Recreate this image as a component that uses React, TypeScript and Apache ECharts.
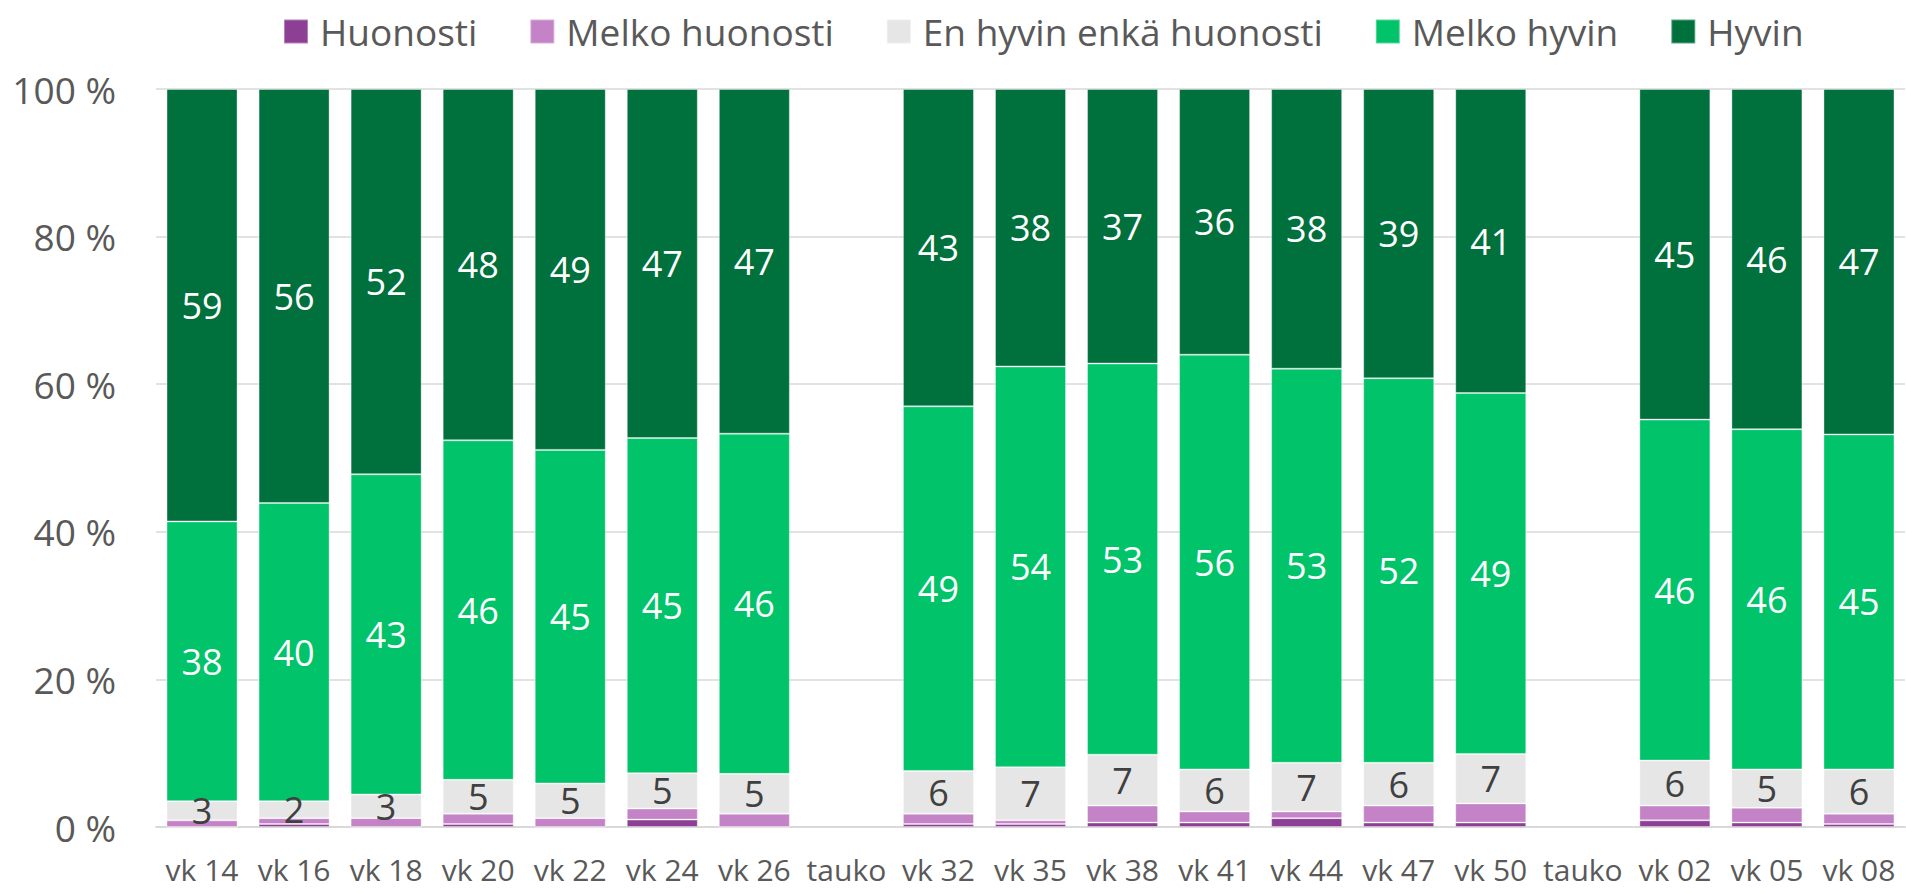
import React, { useEffect, useRef } from "react";
import * as echarts from "echarts";

const categories = ["vk 14", "vk 16", "vk 18", "vk 20", "vk 22", "vk 24", "vk 26", "tauko", "vk 32", "vk 35", "vk 38", "vk 41", "vk 44", "vk 47", "vk 50", "tauko", "vk 02", "vk 05", "vk 08"];
const seriesNames = ["Huonosti", "Melko huonosti", "En hyvin enkä huonosti", "Melko hyvin", "Hyvin"];
const huonosti = [0, 0.4, 0, 0.4, 0, 1.0, 0, null, 0.4, 0.4, 0.6, 0.6, 1.2, 0.6, 0.6, null, 0.9, 0.6, 0.4];
const melkoHuonosti = [0.9, 0.8, 1.2, 1.4, 1.2, 1.5, 1.8, null, 1.4, 0.5, 2.3, 1.5, 0.9, 2.3, 2.6, null, 2.0, 2.0, 1.4];
const enHyvinEnkaHuonosti = [2.6, 2.3, 3.2, 4.6, 4.7, 4.8, 5.4, null, 5.8, 7.2, 6.9, 5.7, 6.6, 5.8, 6.7, null, 6.1, 5.2, 6.0];
const melkoHyvin = [37.9, 40.4, 43.4, 46.0, 45.2, 45.4, 46.1, null, 49.4, 54.3, 53.0, 56.2, 53.4, 52.1, 48.9, null, 46.2, 46.1, 45.4];
const hyvin = [58.6, 56.1, 52.2, 47.6, 48.9, 47.3, 46.7, null, 43.0, 37.6, 37.2, 36.0, 37.9, 39.2, 41.2, null, 44.8, 46.1, 46.8];
const yTicks = { min: 0, max: 100, interval: 20 };

const colors = ["#8C3F95", "#C383C6", "#E6E6E6", "#00C36A", "#00703C"];
const labelColors = [null, null, "#404040", "#FFFFFF", "#FFFFFF"];
const FONT = "'Open Sans', 'Noto Sans', sans-serif";

export default function App() {
  const ref = useRef<HTMLDivElement>(null);
  useEffect(() => {
    if (!ref.current) return;
    const chart = echarts.init(ref.current, null, { renderer: "svg" });
    const dataSets = [huonosti, melkoHuonosti, enHyvinEnkaHuonosti, melkoHyvin, hyvin];
    chart.setOption({
      animation: false,
      textStyle: { fontFamily: FONT },
      legend: {
        left: 283,
        top: 13,
        padding: 0,
        itemWidth: 24,
        itemHeight: 24,
        itemGap: 52,
        icon: "rect",
        textStyle: { fontSize: 37, color: "#595959", fontFamily: FONT, padding: [0, 0, 0, 7] },
        data: seriesNames,
      },
      grid: { left: 156, right: 1, top: 89, bottom: 66, containLabel: false },
      xAxis: {
        type: "category",
        data: categories,
        axisTick: { show: false },
        axisLine: { lineStyle: { color: "#D9D9D9", width: 2 } },
        axisLabel: { fontSize: 30, lineHeight: 30, color: "#595959", margin: 27, fontFamily: FONT, interval: 0 },
      },
      yAxis: {
        type: "value",
        min: yTicks.min,
        max: yTicks.max,
        interval: yTicks.interval,
        axisLine: { show: false },
        axisTick: { show: false },
        splitLine: { lineStyle: { color: "#D9D9D9", width: 1.5 } },
        axisLabel: { fontSize: 37, color: "#595959", margin: 40, fontFamily: FONT, formatter: "{value} %" },
      },
      series: seriesNames.map((name, i) => ({
        name,
        type: "bar",
        stack: "total",
        barWidth: 71,
        data: dataSets[i],
        itemStyle: { color: colors[i], borderColor: "rgba(255,255,255,0.35)", borderWidth: 1 },
        label: labelColors[i]
          ? {
              show: true,
              position: "inside",
              color: labelColors[i],
              fontSize: 36,
              fontFamily: FONT,
              formatter: (p: any) => (p.value == null ? "" : String(Math.round(p.value))),
            }
          : { show: false },
        emphasis: { disabled: true },
      })),
    });
    return () => chart.dispose();
  }, []);
  return <div ref={ref} style={{ position: "absolute", left: 0, top: 0, width: 1906, height: 893 }} />;
}
